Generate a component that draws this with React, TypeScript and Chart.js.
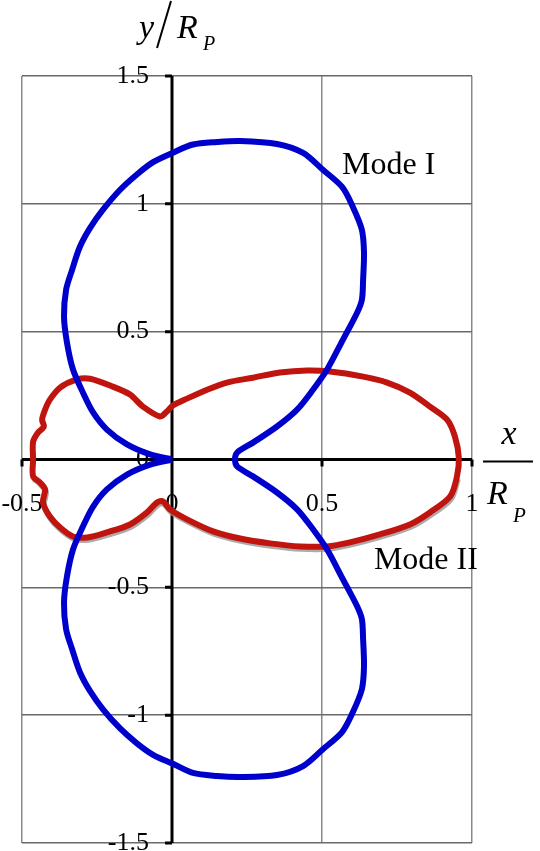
import React, { useEffect, useRef } from "react";
import { Chart, registerables } from "chart.js";
import type { Plugin } from "chart.js";

Chart.register(...registerables);

// Mode I (blue), starting and ending at the origin
const modeIX = [
  0, -0.073, -0.15, -0.217, -0.263, -0.297, -0.33, -0.35, -0.36, -0.353, -0.333, -0.307, -0.273, -0.23, -0.173,
  -0.117, -0.063, 0.003, 0.07, 0.15, 0.227, 0.35, 0.437, 0.503, 0.567, 0.603, 0.633, 0.64, 0.637, 0.633, 0.617,
  0.57, 0.517, 0.47, 0.417, 0.35, 0.27, 0.217, 0.21,
  0.217, 0.27, 0.35, 0.417, 0.47, 0.517, 0.57, 0.617, 0.633, 0.637, 0.64, 0.633, 0.603, 0.567, 0.503, 0.437,
  0.35, 0.227, 0.15, 0.07, 0.003, -0.063, -0.117, -0.173, -0.23, -0.273, -0.307, -0.333, -0.353, -0.36, -0.35,
  -0.33, -0.297, -0.263, -0.217, -0.15, -0.073, 0,
];
const modeIY = [
  0, 0.02, 0.059, 0.117, 0.184, 0.262, 0.352, 0.457, 0.559, 0.664, 0.742, 0.832, 0.906, 0.977, 1.055,
  1.115, 1.163, 1.2, 1.232, 1.242, 1.246, 1.234, 1.199, 1.133, 1.066, 0.988, 0.898, 0.809, 0.703, 0.625, 0.574,
  0.469, 0.352, 0.273, 0.195, 0.129, 0.066, 0.027, 0,
  -0.027, -0.066, -0.129, -0.195, -0.273, -0.352, -0.469, -0.574, -0.625, -0.703, -0.809, -0.898, -0.988, -1.066,
  -1.133, -1.199, -1.234, -1.242, -1.238, -1.226, -1.19, -1.155, -1.11, -1.052, -0.977, -0.906, -0.832, -0.742,
  -0.664, -0.559, -0.457, -0.352, -0.262, -0.184, -0.117, -0.059, -0.02, 0,
];

// Mode II (red), upper half left to right, then lower half right to left
const modeIIX = [
  -0.463, -0.463, -0.447, -0.427, -0.433, -0.423, -0.407, -0.373, -0.317, -0.273, -0.197, -0.14, -0.097, -0.04,
  -0.017, 0.003, 0.05, 0.117, 0.183, 0.27, 0.36, 0.45, 0.527, 0.637, 0.717, 0.793, 0.86, 0.917, 0.943, 0.956,
  0.95, 0.927, 0.86, 0.793, 0.693, 0.593, 0.517, 0.427, 0.327, 0.227, 0.137, 0.05, -0.007, -0.03, -0.05, -0.083,
  -0.14, -0.217, -0.283, -0.33, -0.373, -0.407, -0.43, -0.423, -0.44, -0.463, -0.463,
];
const modeIIY = [
  0, 0.07, 0.105, 0.129, 0.156, 0.195, 0.234, 0.281, 0.313, 0.316, 0.285, 0.254, 0.207, 0.168,
  0.188, 0.211, 0.238, 0.273, 0.301, 0.32, 0.34, 0.348, 0.344, 0.324, 0.301, 0.262, 0.207, 0.156, 0.09, 0.008,
  -0.066, -0.145, -0.207, -0.254, -0.293, -0.324, -0.34, -0.34, -0.328, -0.309, -0.281, -0.234, -0.195, -0.164,
  -0.168, -0.207, -0.254, -0.285, -0.305, -0.301, -0.266, -0.223, -0.168, -0.117, -0.09, -0.066, 0,
];

// grey shadow under the lower half of Mode II
const shadowX = [
  0.953, 0.93, 0.863, 0.796, 0.696, 0.596, 0.52, 0.43, 0.33, 0.23, 0.14, 0.053, -0.004, -0.027, -0.047, -0.08,
  -0.137, -0.214, -0.28, -0.327, -0.37, -0.404, -0.427, -0.42, -0.437, -0.46,
];
const shadowY = [
  -0.075, -0.154, -0.216, -0.263, -0.302, -0.333, -0.349, -0.349, -0.337, -0.318, -0.29, -0.243, -0.204, -0.173,
  -0.177, -0.216, -0.263, -0.294, -0.314, -0.31, -0.275, -0.232, -0.177, -0.126, -0.099, -0.075,
];

const xTicks = [-0.5, 0, 0.5, 1];
const xTickLabels = ["-0.5", "0", "0.5", "1"];
const yTicks = [1.5, 1, 0.5, 0, -0.5, -1, -1.5];
const yTickLabels = ["1.5", "1", "0.5", "0", "-0.5", "-1", "-1.5"];

const toPoints = (xs: number[], ys: number[]) => xs.map((x, i) => ({ x, y: ys[i] }));

const SERIF = '"Liberation Serif", "DejaVu Serif", serif';

const axesPlugin: Plugin<"scatter"> = {
  id: "centerAxes",
  beforeDatasetsDraw(chart) {
    const { ctx, chartArea, scales } = chart;
    const x0 = scales.x.getPixelForValue(0);
    const y0 = scales.y.getPixelForValue(0);
    ctx.save();
    ctx.strokeStyle = "#000";
    ctx.lineWidth = 3;
    ctx.beginPath();
    ctx.moveTo(chartArea.left, y0);
    ctx.lineTo(chartArea.right, y0);
    ctx.moveTo(x0, chartArea.top);
    ctx.lineTo(x0, chartArea.bottom);
    // small tick marks
    yTicks.forEach((v) => {
      const py = scales.y.getPixelForValue(v);
      ctx.moveTo(x0 - 7, py);
      ctx.lineTo(x0, py);
    });
    xTicks.forEach((v) => {
      if (v === 0) return;
      const px = scales.x.getPixelForValue(v);
      ctx.moveTo(px, y0);
      ctx.lineTo(px, y0 + 7);
    });
    ctx.stroke();

    ctx.fillStyle = "#000";
    ctx.font = `26px ${SERIF}`;
    ctx.textAlign = "right";
    ctx.textBaseline = "middle";
    yTicks.forEach((v, i) => {
      ctx.fillText(yTickLabels[i], x0 - 23, scales.y.getPixelForValue(v));
    });
    ctx.textAlign = "center";
    xTicks.forEach((v, i) => {
      ctx.fillText(xTickLabels[i], scales.x.getPixelForValue(v), y0 + 45);
    });
    ctx.restore();
  },
  afterDraw(chart) {
    const { ctx, scales } = chart;
    const x0 = scales.x.getPixelForValue(0);
    const y0 = scales.y.getPixelForValue(0);
    const xr = scales.x.getPixelForValue(1);
    ctx.save();
    ctx.fillStyle = "#000";
    ctx.textBaseline = "alphabetic";
    ctx.textAlign = "left";

    // series labels
    ctx.font = `32px ${SERIF}`;
    ctx.fillText("Mode I", scales.x.getPixelForValue(0.567), scales.y.getPixelForValue(1.118));
    ctx.fillText("Mode II", scales.x.getPixelForValue(0.673), scales.y.getPixelForValue(-0.43));

    // y / R_P title
    ctx.font = `italic 34px ${SERIF}`;
    ctx.fillText("y", x0 - 33, 38);
    ctx.fillText("R", x0 + 5, 38);
    ctx.font = `italic 20px ${SERIF}`;
    ctx.fillText("P", x0 + 31, 50);
    ctx.strokeStyle = "#000";
    ctx.lineWidth = 2;
    ctx.beginPath();
    ctx.moveTo(x0 - 1, 1);
    ctx.lineTo(x0 - 15, 48);
    ctx.stroke();

    // x / R_P title as fraction
    const fx = xr + 11;
    ctx.font = `italic 34px ${SERIF}`;
    ctx.textAlign = "center";
    ctx.fillText("x", fx + 26, y0 - 16);
    ctx.beginPath();
    ctx.moveTo(fx, y0 + 2);
    ctx.lineTo(fx + 50, y0 + 2);
    ctx.stroke();
    ctx.textAlign = "left";
    ctx.fillText("R", fx + 4, y0 + 44);
    ctx.font = `italic 21px ${SERIF}`;
    ctx.fillText("P", fx + 30, y0 + 62);
    ctx.restore();
  },
};

export default function App() {
  const canvasRef = useRef<HTMLCanvasElement | null>(null);

  useEffect(() => {
    const canvas = canvasRef.current;
    if (!canvas) return;
    const chart = new Chart(canvas, {
      type: "scatter",
      data: {
        datasets: [
          {
            label: "shadow",
            data: toPoints(shadowX, shadowY),
            showLine: true,
            borderColor: "rgba(150,150,150,0.8)",
            borderWidth: 6,
            pointRadius: 0,
            tension: 0.3,
            order: 3,
          },
          {
            label: "Mode II",
            data: toPoints(modeIIX, modeIIY),
            showLine: true,
            borderColor: "#c0140e",
            borderWidth: 6,
            pointRadius: 0,
            tension: 0.3,
            order: 2,
          },
          {
            label: "Mode I",
            data: toPoints(modeIX, modeIY),
            showLine: true,
            borderColor: "#0000cc",
            borderWidth: 6,
            pointRadius: 0,
            tension: 0.3,
            order: 1,
          },
        ],
      },
      options: {
        animation: false,
        responsive: true,
        maintainAspectRatio: false,
        layout: { padding: { left: 22, right: 68, top: 76, bottom: 8 } },
        plugins: { legend: { display: false }, tooltip: { enabled: false } },
        scales: {
          x: {
            type: "linear",
            min: -0.5,
            max: 1,
            ticks: { stepSize: 0.5, display: false },
            grid: { color: "#8a8a8a", lineWidth: 1.5, drawTicks: false },
            border: { display: false },
          },
          y: {
            type: "linear",
            min: -1.5,
            max: 1.5,
            ticks: { stepSize: 0.5, display: false },
            grid: { color: "#6a6a6a", lineWidth: 1.5, drawTicks: false },
            border: { display: false },
          },
        },
      },
      plugins: [axesPlugin],
    });
    return () => chart.destroy();
  }, []);

  return (
    <div style={{ position: "absolute", left: 0, top: 0, width: 540, height: 851, background: "#fff" }}>
      <canvas ref={canvasRef} />
    </div>
  );
}
